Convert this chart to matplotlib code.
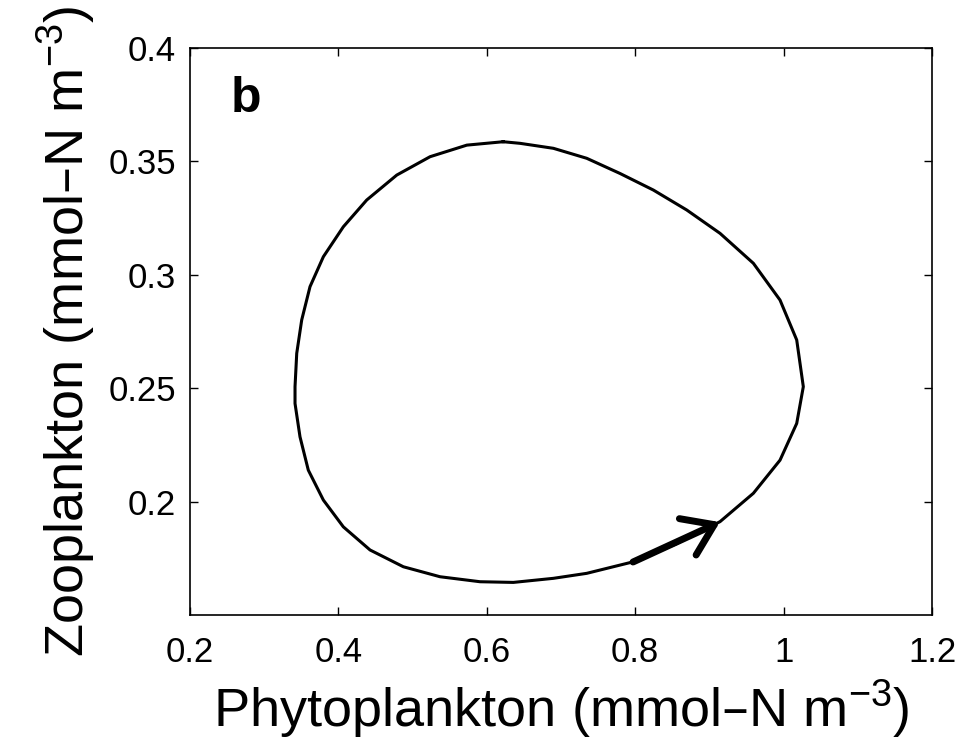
import numpy as np
import matplotlib.pyplot as plt

plt.rcParams['font.family'] = ['Liberation Sans', 'DejaVu Sans']

# limit cycle (counter-clockwise, starting at the top)
phyto = [0.622, 0.573, 0.5235, 0.4786, 0.4381, 0.4066, 0.3797, 0.3617, 0.3505,
         0.3438, 0.3415, 0.3415, 0.3482, 0.3594, 0.3797, 0.4066, 0.4426, 0.4875,
         0.5369, 0.5908, 0.6357, 0.6897, 0.7346, 0.7975, 0.856, 0.9143, 0.9592,
         0.9951, 1.0176, 1.0265, 1.0176, 0.9951, 0.9592, 0.9143, 0.8694, 0.8244,
         0.7795, 0.7346, 0.6897, 0.6447, 0.622]
zoo = [0.3587, 0.3572, 0.3521, 0.3440, 0.3330, 0.3212, 0.3080, 0.2948, 0.2801,
       0.2654, 0.2507, 0.2433, 0.2286, 0.2139, 0.2007, 0.1889, 0.1787, 0.1713,
       0.1669, 0.1647, 0.1644, 0.1662, 0.1684, 0.1735, 0.1815, 0.1912, 0.2037,
       0.2183, 0.2345, 0.2507, 0.2713, 0.2889, 0.3051, 0.3183, 0.3286, 0.3374,
       0.3447, 0.3514, 0.3558, 0.3580, 0.3587]

arrow_tail = (0.797, 0.1734)
arrow_tip = (0.914, 0.1910)

xticks = [0.2, 0.4, 0.6, 0.8, 1.0, 1.2]
xticklabels = ['0.2', '0.4', '0.6', '0.8', '1', '1.2']
yticks = [0.2, 0.25, 0.3, 0.35, 0.4]
yticklabels = ['0.2', '0.25', '0.3', '0.35', '0.4']

fig = plt.figure(figsize=(9.77, 7.51), dpi=100)
ax = fig.add_axes([0.1945, 0.181, 0.7595, 0.755])

ax.plot(phyto, zoo, color='k', lw=2.2, solid_joinstyle='round')
ax.annotate('', xy=arrow_tip, xytext=arrow_tail,
            arrowprops=dict(arrowstyle='->,head_length=0.7,head_width=0.48',
                            lw=5, color='k', shrinkA=0, shrinkB=0,
                            mutation_scale=30))

ax.set_xlim(0.2, 1.2)
ax.set_ylim(0.15, 0.4)
ax.set_xticks(xticks)
ax.set_xticklabels(xticklabels)
ax.set_yticks(yticks)
ax.set_yticklabels(yticklabels)
ax.tick_params(direction='in', length=6, width=1, top=True, right=True,
               labelsize=25)
ax.tick_params(axis='x', pad=15)
ax.tick_params(axis='y', pad=10)
for s in ax.spines.values():
    s.set_linewidth(1.2)

ax.set_xlabel('Phytoplankton (mmol\u2013N m$^{\\mathregular{-3}}$)', fontsize=39, labelpad=6)
ax.set_ylabel('Zooplankton (mmol\u2013N m$^{\\mathregular{-3}}$)', fontsize=39, labelpad=8)

ax.text(0.055, 0.95, 'b', transform=ax.transAxes, fontsize=36,
        fontweight='bold', va='top', ha='left')

fig.savefig('out.png', dpi=100)
